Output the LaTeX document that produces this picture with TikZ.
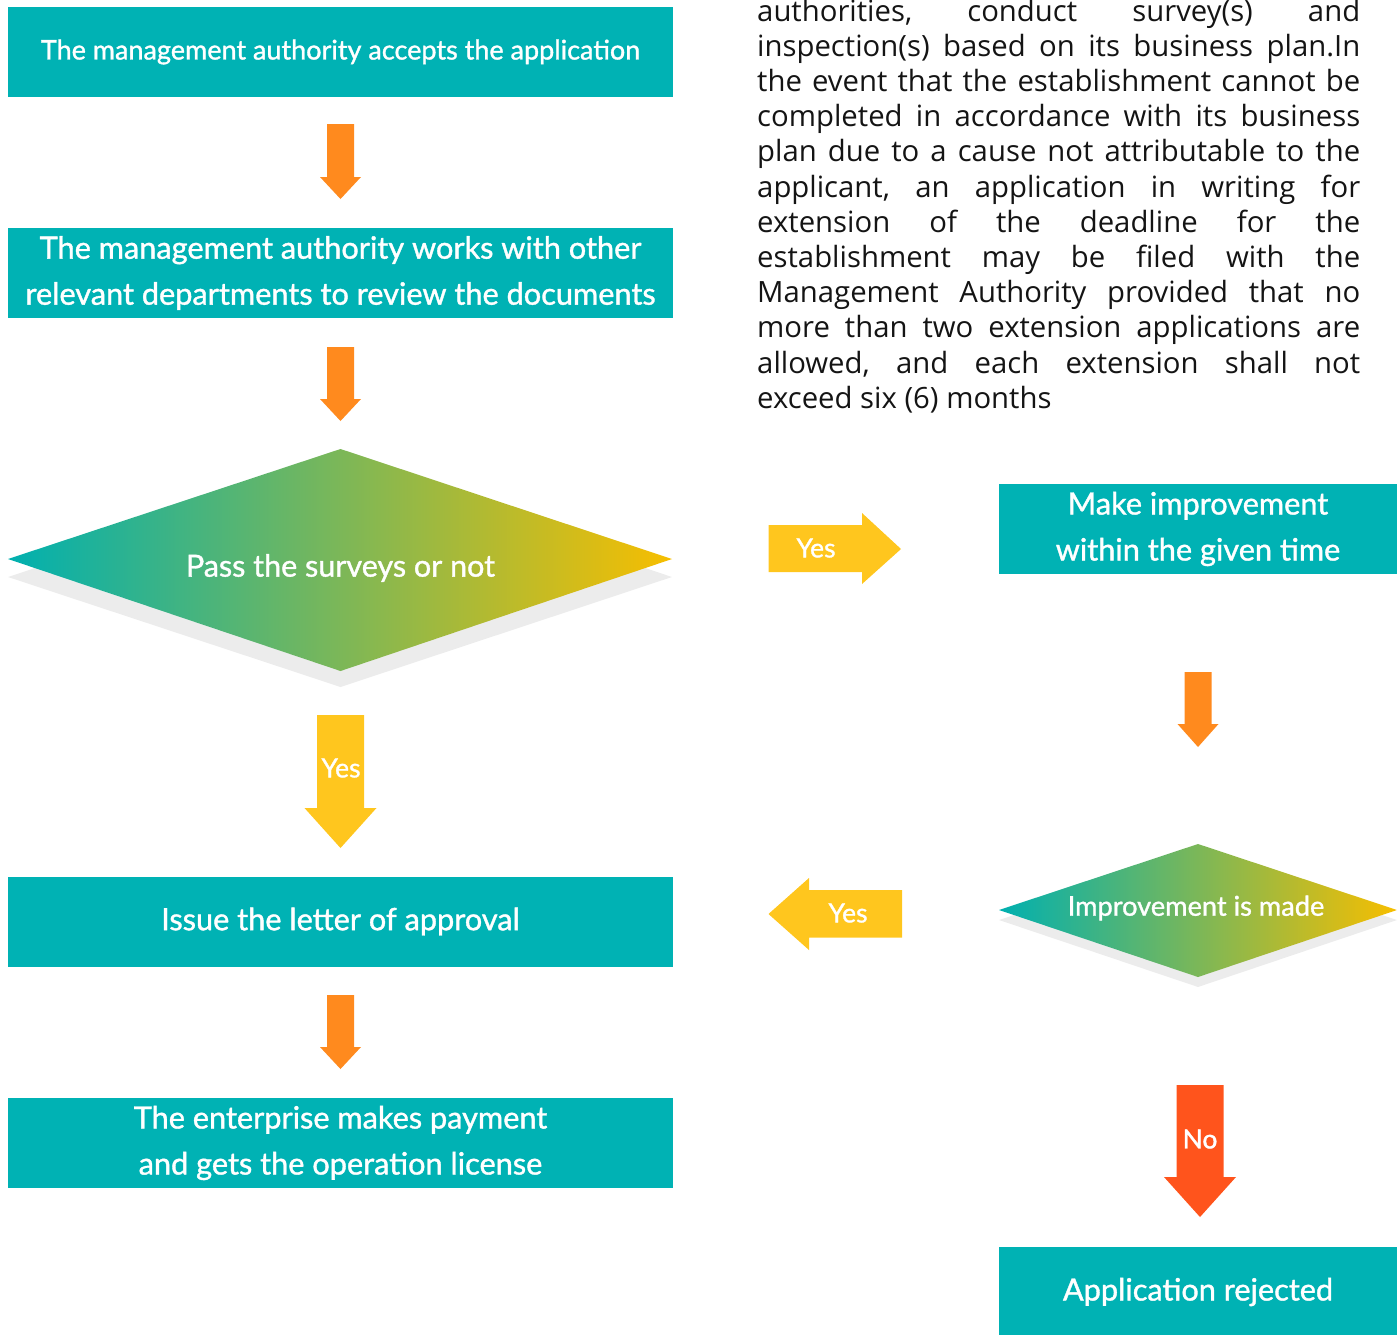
\documentclass[tikz,border=0pt]{standalone}
\usepackage{fontspec}
\setmainfont{Lato}[FakeBold=1.2]
\newfontfamily\parafont{Open Sans}
\definecolor{boxteal}{RGB}{0,178,180}
\definecolor{arrorange}{RGB}{255,138,30}
\definecolor{arryellow}{RGB}{255,198,30}
\definecolor{arrred}{RGB}{255,84,28}
\definecolor{gteal}{RGB}{0,176,176}
\definecolor{ggreen}{RGB}{122,186,90}
\definecolor{gyellow}{RGB}{247,190,0}
\definecolor{shadowgrey}{RGB}{236,236,236}
\definecolor{paratext}{RGB}{20,20,20}
\newcommand\pline[1]{\hbox to 603pt{\frenchspacing\spaceskip=0.25em plus 1fil minus 0.1em\relax #1}}
% block arrow pointing down: colour, cx, ytop, yneck, ytip, shaft half, head half
\newcommand\blkdown[7]{\fill[#1] (#2-#6,#3) -- (#2+#6,#3) -- (#2+#6,#4) -- (#2+#7,#4) -- (#2,#5) -- (#2-#7,#4) -- (#2-#6,#4) -- cycle;}
\tikzset{
  box/.style={fill=boxteal, text=white, inner sep=0pt, align=center, font=\fontsize{30.7}{46}\selectfont},
  dtext/.style={text=white, inner sep=0pt, font=\fontsize{30.5}{34}\selectfont},
  atext/.style={text=white, inner sep=0pt, font=\fontsize{26.5}{30}\selectfont},
  para/.style={inner sep=0pt, text=paratext, anchor=base west, font=\parafont\fontsize{29.3}{35}\selectfont},
  dshadow/.style={fill=shadowgrey},
  dfill/.style={left color=gteal, middle color=ggreen, right color=gyellow, shading angle=90},
}
\begin{document}
\begin{tikzpicture}[x=1pt,y=-1pt]
\useasboundingbox (0,0) rectangle (1397,1334);
% left column boxes
\node[box, minimum width=665pt, minimum height=90pt, font=\fontsize{27}{46}\selectfont] (b1) at (340.5,52) {The management authority accepts the application};
\node[box, minimum width=665pt, minimum height=90pt] (b2) at (340.5,273) {The management authority works with other\\relevant departments to review the documents};
\node[box, minimum width=665pt, minimum height=90pt] (b3) at (340.5,921.5) {Issue the letter of approval};
\node[box, minimum width=665pt, minimum height=90pt] (b4) at (340.5,1143) {The enterprise makes payment\\and gets the operation license};
% orange arrows
\blkdown{arrorange}{340.5}{124}{177}{199}{13.5}{20.5}
\blkdown{arrorange}{340.5}{347}{399}{421}{13.5}{20.5}
\blkdown{arrorange}{340.5}{995}{1047}{1069}{13.5}{20.5}
% diamond 1
\fill[dshadow] (8,577) -- (340.5,466) -- (672,577) -- (340.5,687) -- cycle;
\shade[dfill] (8,559) -- (340.5,449) -- (672,559) -- (340.5,671) -- cycle;
\node[dtext] (d1) at (340.5,568) {Pass the surveys or not};
% yes down arrow
\blkdown{arryellow}{340.5}{715}{808}{848}{23.5}{36}
\node[atext] (y1) at (341,768) {Yes};
% right column
\node[box, minimum width=398pt, minimum height=90pt] (b5) at (1198,529) {Make improvement\\within the given time};
\fill[arryellow] (768.5,525) -- (862,525) -- (862,513) -- (901,549) -- (862,584) -- (862,572) -- (768.5,572) -- cycle;
\node[atext] (y2) at (816,548) {Yes};
\blkdown{arrorange}{1198}{672}{724}{747}{13.5}{20.5}
\fill[dshadow] (999,920) -- (1198,854) -- (1397,920) -- (1198,987) -- cycle;
\shade[dfill] (999,910) -- (1198,844) -- (1397,910) -- (1198,977) -- cycle;
\node[dtext, font=\fontsize{27.2}{30}\selectfont] (d2) at (1196,908) {Improvement is made};
\fill[arryellow] (902,890) -- (809,890) -- (809,878) -- (768.5,914) -- (809,950) -- (809,937.5) -- (902,937.5) -- cycle;
\node[atext] (y3) at (848,913) {Yes};
\blkdown{arrred}{1200}{1085}{1177}{1217}{23.5}{36}
\node[atext] (n1) at (1200,1139) {No};
\node[box, minimum width=398pt, minimum height=90pt] (b6) at (1198,1292) {Application rejected};
% paragraph
\node[para] (p1) at (757,21) {\pline{authorities, conduct survey(s) and}};
\node[para] (p2) at (757,56.2) {\pline{inspection(s) based on its business plan.In}};
\node[para] (p3) at (757,91.4) {\pline{the event that the establishment cannot be}};
\node[para] (p4) at (757,126.6) {\pline{completed in accordance with its business}};
\node[para] (p5) at (757,161.8) {\pline{plan due to a cause not attributable to the}};
\node[para] (p6) at (757,197) {\pline{applicant, an application in writing for}};
\node[para] (p7) at (757,232.2) {\pline{extension of the deadline for the}};
\node[para] (p8) at (757,267.4) {\pline{establishment may be filed with the}};
\node[para] (p9) at (757,302.6) {\pline{Management Authority provided that no}};
\node[para] (p10) at (757,337.8) {\pline{more than two extension applications are}};
\node[para] (p11) at (757,373) {\pline{allowed, and each extension shall not}};
\node[para] (p12) at (757,408.2) {exceed six (6) months};
\end{tikzpicture}
\end{document}
